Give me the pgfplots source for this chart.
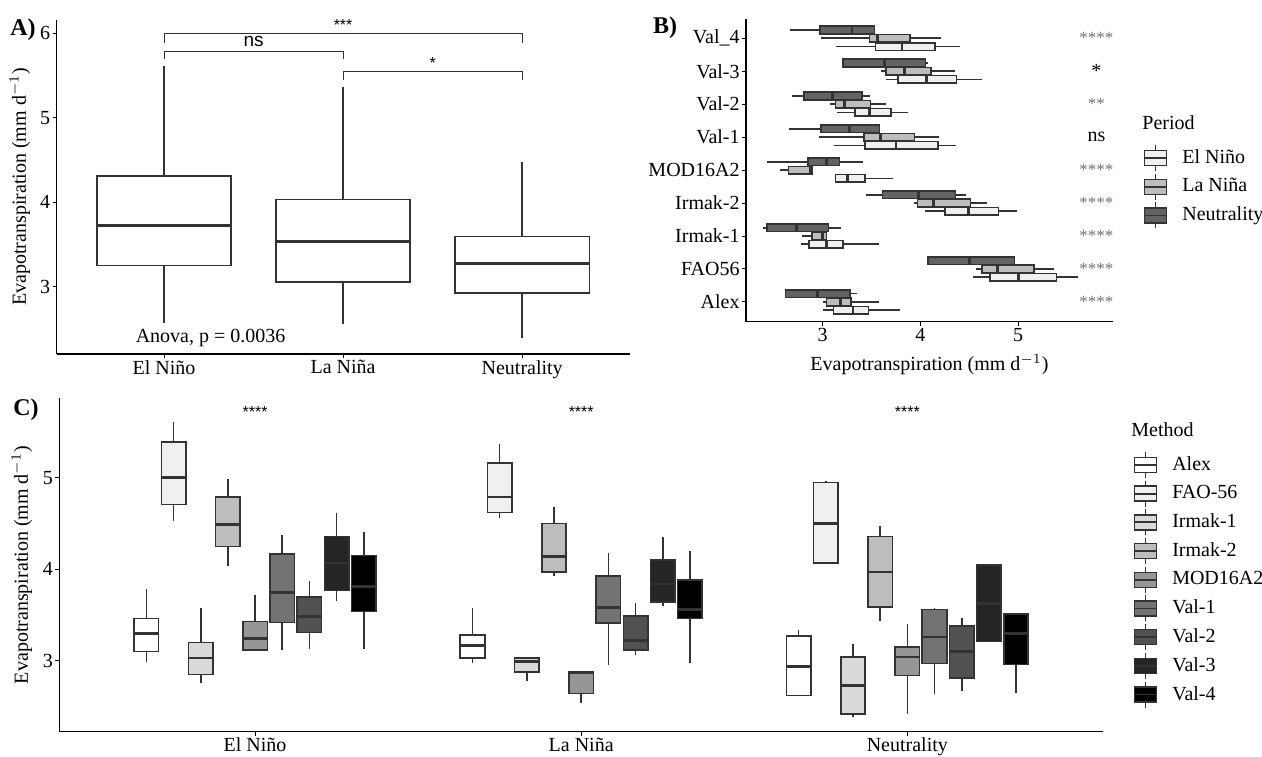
\documentclass[border=0pt]{standalone}
\usepackage{fontspec}
\setmainfont{Liberation Serif}
\newfontfamily\sansf{Liberation Sans}
\usepackage{pgfplots}
\pgfplotsset{compat=1.18}
\usepgfplotslibrary{statistics}

\definecolor{ol}{HTML}{333333}
\definecolor{pEN}{HTML}{F0F0F0}
\definecolor{pLN}{HTML}{BDBDBD}
\definecolor{pNE}{HTML}{636363}
\definecolor{gA}{HTML}{FFFFFF}
\definecolor{gB}{HTML}{F0F0F0}
\definecolor{gC}{HTML}{D9D9D9}
\definecolor{gD}{HTML}{BDBDBD}
\definecolor{gE}{HTML}{969696}
\definecolor{gF}{HTML}{737373}
\definecolor{gG}{HTML}{525252}
\definecolor{gH}{HTML}{252525}
\definecolor{gI}{HTML}{000000}

\pgfplotsset{
  ggbase/.style={
    scale only axis, axis lines=left,
    axis line style={-, line width=0.75pt, black},
    tick align=outside, major tick length=2pt,
    tick style={line width=0.5pt, black},
    enlargelimits=false, clip=false,
    /pgf/number format/assume math mode=true,
    ticklabel style={font=\fontsize{10}{12}\selectfont, text=black, inner sep=1pt},
    label style={font=\fontsize{10}{12}\selectfont},
    boxplot/whisker extend=0,
    boxplot/every median/.style={line width=1.4pt},
    minor tick num=0,
  },
  ggleg/.style={
    legend style={draw=none, fill=none, inner sep=0pt, row sep=0.75pt,
      anchor=north west, legend cell align=left,
      nodes={inner sep=1pt, font=\fontsize{10}{12}\selectfont},
      /tikz/every odd column/.append style={column sep=6.5pt}},
  },
}

% draw position, lower whisker, lower quartile, median, upper quartile, upper whisker, box extend, fill
\newcommand{\bx}[8]{\addplot[forget plot, draw=ol, fill=#8, line width=0.8pt,
  boxplot prepared={draw position=#1, lower whisker=#2, lower quartile=#3,
  median=#4, upper quartile=#5, upper whisker=#6, box extend=#7}] coordinates {};}

\newcommand{\keyimg}[1]{\addlegendimage{legend image code/.code={
  \draw[ol, line width=0.6pt] (5.5pt,-6.5pt) -- (5.5pt,6.5pt);
  \draw[ol, line width=0.7pt, fill=#1] (0pt,-3.75pt) rectangle (11pt,3.75pt);
  \draw[ol, line width=0.9pt] (0pt,0pt) -- (11pt,0pt);
}}}

\begin{document}
\begin{tikzpicture}
\path[use as bounding box] (0pt,0pt) rectangle (631pt,378pt);

% ---------------- Panel A ----------------
\begin{axis}[ggbase, at={(28.3pt,201pt)}, anchor=south west,
  width=286.5pt, height=167.1pt,
  boxplot/draw direction=y,
  xmin=0.4, xmax=3.6, ymin=2.2, ymax=6.16,
  xtick={1,2,3}, xticklabels={El Niño, La Niña, Neutrality},
  ytick={3,4,5,6},
  ylabel={Evapotranspiration (mm d$^{-1}$)},
  every axis y label/.style={at={(axis description cs:-0.064,0.5)}, rotate=90, anchor=center}]
\bx{1}{2.57}{3.25}{3.72}{4.31}{5.61}{0.75}{white}
\bx{2}{2.55}{3.05}{3.53}{4.03}{5.36}{0.75}{white}
\bx{3}{2.39}{2.92}{3.27}{3.59}{4.47}{0.75}{white}
\addplot[ol, line width=0.5pt, forget plot] coordinates {(1,5.89) (1,6) (3,6) (3,5.89)};
\addplot[ol, line width=0.5pt, forget plot] coordinates {(1,5.69) (1,5.79) (2,5.79) (2,5.69)};
\addplot[ol, line width=0.5pt, forget plot] coordinates {(2,5.45) (2,5.55) (3,5.55) (3,5.45)};
\node[font=\sansf\fontsize{8}{9}\selectfont] at (axis cs:2,6.1) {***};
\node[font=\sansf\fontsize{9.5}{11}\selectfont] at (axis cs:1.5,5.9) {ns};
\node[font=\sansf\fontsize{8}{9}\selectfont] at (axis cs:2.5,5.65) {*};
\node[font=\fontsize{10}{12}\selectfont] at (axis cs:1.26,2.39) {Anova, p = 0.0036};
\end{axis}

% ---------------- Panel B ----------------
\begin{axis}[ggbase, ggleg, at={(373pt,217.15pt)}, anchor=south west,
  width=183.5pt, height=151.6pt,
  boxplot/draw direction=x,
  xmin=2.215, xmax=5.97, ymin=0.4, ymax=9.6,
  xtick={3,4,5}, ytick={1,2,3,4,5,6,7,8,9},
  yticklabels={Alex,FAO56,Irmak-1,Irmak-2,MOD16A2,Val-1,Val-2,Val-3,Val\_4},
  xlabel={Evapotranspiration (mm d$^{-1}$)},
  every axis x label/.style={at={(axis description cs:0.5,-0.142)}, anchor=center},
  legend style={at={(1.082,0.586)}}]
\keyimg{pEN}\addlegendentry{El Niño}
\keyimg{pLN}\addlegendentry{La Niña}
\keyimg{pNE}\addlegendentry{Neutrality}
% Alex
\bx{1.25}{2.62}{2.62}{2.95}{3.28}{3.35}{0.23}{pNE}
\bx{1}{3.00}{3.04}{3.18}{3.29}{3.58}{0.23}{pLN}
\bx{0.75}{3.00}{3.11}{3.31}{3.47}{3.79}{0.23}{pEN}
% FAO56
\bx{2.25}{4.08}{4.08}{4.50}{4.96}{4.97}{0.23}{pNE}
\bx{2}{4.57}{4.63}{4.79}{5.16}{5.37}{0.23}{pLN}
\bx{1.75}{4.54}{4.71}{5.00}{5.39}{5.61}{0.23}{pEN}
% Irmak-1
\bx{3.25}{2.39}{2.43}{2.73}{3.06}{3.19}{0.23}{pNE}
\bx{3}{2.79}{2.89}{3.00}{3.04}{3.04}{0.23}{pLN}
\bx{2.75}{2.78}{2.86}{3.04}{3.21}{3.58}{0.23}{pEN}
% Irmak-2
\bx{4.25}{3.44}{3.61}{3.98}{4.36}{4.47}{0.23}{pNE}
\bx{4}{3.93}{3.97}{4.13}{4.51}{4.68}{0.23}{pLN}
\bx{3.75}{4.05}{4.25}{4.49}{4.80}{4.99}{0.23}{pEN}
% MOD16A2
\bx{5.25}{2.43}{2.85}{3.04}{3.17}{3.41}{0.23}{pNE}
\bx{5}{2.56}{2.65}{2.87}{2.89}{2.89}{0.23}{pLN}
\bx{4.75}{3.13}{3.13}{3.25}{3.43}{3.72}{0.23}{pEN}
% Val-1
\bx{6.25}{2.65}{2.98}{3.27}{3.58}{3.59}{0.23}{pNE}
\bx{6}{2.96}{3.42}{3.59}{3.94}{4.19}{0.23}{pLN}
\bx{5.75}{3.12}{3.43}{3.75}{4.18}{4.36}{0.23}{pEN}
% Val-2
\bx{7.25}{2.69}{2.81}{3.10}{3.40}{3.48}{0.23}{pNE}
\bx{7}{3.07}{3.13}{3.22}{3.49}{3.65}{0.23}{pLN}
\bx{6.75}{3.15}{3.33}{3.48}{3.70}{3.87}{0.23}{pEN}
% Val-3
\bx{8.25}{3.21}{3.21}{3.63}{4.05}{4.08}{0.23}{pNE}
\bx{8}{3.60}{3.65}{3.84}{4.11}{4.35}{0.23}{pLN}
\bx{7.75}{3.65}{3.77}{4.06}{4.37}{4.63}{0.23}{pEN}
% Val_4
\bx{9.25}{2.66}{2.97}{3.30}{3.53}{3.53}{0.23}{pNE}
\bx{9}{2.98}{3.48}{3.56}{3.89}{4.21}{0.23}{pLN}
\bx{8.75}{3.14}{3.54}{3.81}{4.15}{4.40}{0.23}{pEN}
% significance
\node[font=\fontsize{8.5}{9}\selectfont, text=black!55] at (axis cs:5.80,9) {****};
\node[font=\fontsize{10}{12}\selectfont] at (axis cs:5.80,8) {*};
\node[font=\fontsize{8.5}{9}\selectfont, text=black!55] at (axis cs:5.80,7) {**};
\node[font=\fontsize{10}{12}\selectfont] at (axis cs:5.80,6) {ns};
\node[font=\fontsize{8.5}{9}\selectfont, text=black!55] at (axis cs:5.80,5) {****};
\node[font=\fontsize{8.5}{9}\selectfont, text=black!55] at (axis cs:5.80,4) {****};
\node[font=\fontsize{8.5}{9}\selectfont, text=black!55] at (axis cs:5.80,3) {****};
\node[font=\fontsize{8.5}{9}\selectfont, text=black!55] at (axis cs:5.80,2) {****};
\node[font=\fontsize{8.5}{9}\selectfont, text=black!55] at (axis cs:5.80,1) {****};
\end{axis}

% ---------------- Panel C ----------------
\begin{axis}[ggbase, ggleg, at={(29.7pt,12.15pt)}, anchor=south west,
  width=521.8pt, height=166.7pt,
  boxplot/draw direction=y,
  xmin=0.4, xmax=3.6, ymin=2.224, ymax=5.87,
  xtick={1,2,3}, xticklabels={El Niño, La Niña, Neutrality},
  ytick={3,4,5},
  ylabel={Evapotranspiration (mm d$^{-1}$)},
  every axis y label/.style={at={(axis description cs:-0.036,0.5)}, rotate=90, anchor=center},
  legend style={at={(1.0288,0.842)}}]
\keyimg{gA}\addlegendentry{Alex}
\keyimg{gB}\addlegendentry{FAO-56}
\keyimg{gC}\addlegendentry{Irmak-1}
\keyimg{gD}\addlegendentry{Irmak-2}
\keyimg{gE}\addlegendentry{MOD16A2}
\keyimg{gF}\addlegendentry{Val-1}
\keyimg{gG}\addlegendentry{Val-2}
\keyimg{gH}\addlegendentry{Val-3}
\keyimg{gI}\addlegendentry{Val-4}
% El Nino
\bx{0.6667}{2.99}{3.10}{3.30}{3.46}{3.78}{0.075}{gA}
\bx{0.75}{4.53}{4.71}{5.00}{5.39}{5.61}{0.075}{gB}
\bx{0.8333}{2.76}{2.85}{3.03}{3.20}{3.58}{0.075}{gC}
\bx{0.9167}{4.04}{4.25}{4.49}{4.79}{4.99}{0.075}{gD}
\bx{1}{3.12}{3.12}{3.24}{3.43}{3.72}{0.075}{gE}
\bx{1.0833}{3.12}{3.42}{3.75}{4.17}{4.37}{0.075}{gF}
\bx{1.1667}{3.13}{3.31}{3.48}{3.70}{3.87}{0.075}{gG}
\bx{1.25}{3.65}{3.77}{4.07}{4.36}{4.62}{0.075}{gH}
\bx{1.3333}{3.13}{3.54}{3.81}{4.15}{4.41}{0.075}{gI}
% La Nina
\bx{1.6667}{2.98}{3.03}{3.17}{3.28}{3.58}{0.075}{gA}
\bx{1.75}{4.56}{4.62}{4.79}{5.16}{5.37}{0.075}{gB}
\bx{1.8333}{2.78}{2.88}{2.99}{3.03}{3.03}{0.075}{gC}
\bx{1.9167}{3.93}{3.97}{4.14}{4.50}{4.68}{0.075}{gD}
\bx{2}{2.54}{2.64}{2.87}{2.88}{2.88}{0.075}{gE}
\bx{2.0833}{2.95}{3.41}{3.58}{3.93}{4.18}{0.075}{gF}
\bx{2.1667}{3.06}{3.12}{3.22}{3.49}{3.63}{0.075}{gG}
\bx{2.25}{3.60}{3.64}{3.84}{4.10}{4.35}{0.075}{gH}
\bx{2.3333}{2.97}{3.46}{3.56}{3.88}{4.20}{0.075}{gI}
% Neutrality
\bx{2.6667}{2.62}{2.62}{2.94}{3.27}{3.34}{0.075}{gA}
\bx{2.75}{4.06}{4.07}{4.50}{4.95}{4.97}{0.075}{gB}
\bx{2.8333}{2.39}{2.42}{2.73}{3.04}{3.18}{0.075}{gC}
\bx{2.9167}{3.44}{3.59}{3.97}{4.36}{4.47}{0.075}{gD}
\bx{3}{2.42}{2.84}{3.04}{3.15}{3.40}{0.075}{gE}
\bx{3.0833}{2.64}{2.97}{3.26}{3.56}{3.58}{0.075}{gF}
\bx{3.1667}{2.67}{2.81}{3.10}{3.38}{3.47}{0.075}{gG}
\bx{3.25}{3.21}{3.21}{3.63}{4.05}{4.06}{0.075}{gH}
\bx{3.3333}{2.65}{2.96}{3.30}{3.51}{3.52}{0.075}{gI}
\node[font=\sansf\fontsize{8}{9}\selectfont] at (axis cs:1,5.72) {****};
\node[font=\sansf\fontsize{8}{9}\selectfont] at (axis cs:2,5.72) {****};
\node[font=\sansf\fontsize{8}{9}\selectfont] at (axis cs:3,5.72) {****};
\end{axis}

% panel tags and legend titles
\node[font=\bfseries\fontsize{12}{14}\selectfont] at (11.5pt,363pt) {A)};
\node[font=\bfseries\fontsize{12}{14}\selectfont] at (332.5pt,364pt) {B)};
\node[font=\bfseries\fontsize{12}{14}\selectfont] at (13pt,173pt) {C)};
\node[anchor=west, inner sep=0pt, font=\fontsize{10}{12}\selectfont] at (571pt,316.5pt) {Period};
\node[anchor=west, inner sep=0pt, font=\fontsize{10}{12}\selectfont] at (565.5pt,163pt) {Method};
\end{tikzpicture}
\end{document}
